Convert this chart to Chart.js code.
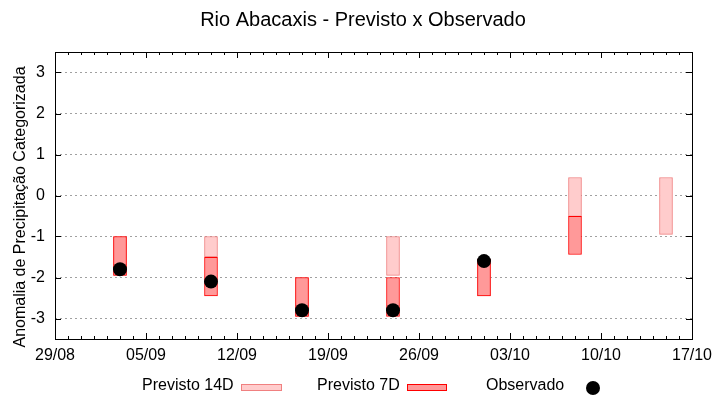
<!DOCTYPE html>
<html>
<head>
<meta charset="utf-8">
<script src="https://cdn.jsdelivr.net/npm/chart.js@4/dist/chart.umd.min.js"></script>
<style>
  html, body { margin: 0; padding: 0; background: #fff; }
  #wrap { width: 720px; height: 400px; }
</style>
</head>
<body>
<div id="wrap"><canvas id="c" width="720" height="400"></canvas></div>
<script>
const chartTitle = 'Rio Abacaxis - Previsto x Observado';
const yAxisTitle = 'Anomalia de Precipitação Categorizada';
const xTickLabels = ['29/08', '05/09', '12/09', '19/09', '26/09', '03/10', '10/10', '17/10'];
const yTickValues = [-3, -2, -1, 0, 1, 2, 3];
const forecastDates = ['03/09', '10/09', '17/09', '24/09', '01/10', '08/10', '15/10'];
const prev14Low  = [-1.95, -1.5, -2.95, -1.95, -2.45, -0.51, -0.95];
const prev14High = [-1.0, -1.0, -2.0, -1.0, -1.55, 0.44, 0.44];
const prev7Low   = [-1.95, -2.45, -2.95, -2.95, -2.45, -1.44, null];
const prev7High  = [-1.0, -1.51, -2.0, -2.0, -1.55, -0.51, null];
const observed   = [-1.8, -2.1, -2.8, -2.8, -1.6, null, null];

const FONT = '"Liberation Sans", Arial, sans-serif';

function dayOffset(s) {
  const [d, m] = s.split('/').map(Number);
  const [bd, bm] = xTickLabels[0].split('/').map(Number);
  return Math.round((Date.UTC(2023, m - 1, d) - Date.UTC(2023, bm - 1, bd)) / 86400000);
}
const xs = forecastDates.map(dayOffset);
const xMax = dayOffset(xTickLabels[xTickLabels.length - 1]);
const tickStep = dayOffset(xTickLabels[1]);

const d14 = xs.map((x, i) => ({ x: x, y: [prev14Low[i], prev14High[i]] }));
const d7 = xs.map((x, i) => prev7Low[i] == null ? null : ({ x: x, y: [prev7Low[i], prev7High[i]] })).filter(Boolean);
const dObs = xs.map((x, i) => observed[i] == null ? null : ({ x: x, y: observed[i] })).filter(Boolean);

const decor = {
  id: 'decor',
  afterDraw(chart) {
    const ctx = chart.ctx;
    const a = chart.chartArea;
    const sx = chart.scales.x, sy = chart.scales.y;
    ctx.save();
    // frame
    ctx.strokeStyle = '#000';
    ctx.lineWidth = 1;
    ctx.strokeRect(Math.round(a.left) + 0.5, Math.round(a.top) + 0.5, Math.round(a.right - a.left), Math.round(a.bottom - a.top));
    ctx.beginPath();
    // x ticks
    for (let d = 0; d <= xMax; d++) {
      const px = Math.round(sx.getPixelForValue(d)) + 0.5;
      const len = (d % tickStep === 0) ? 6 : 3;
      ctx.moveTo(px, a.bottom); ctx.lineTo(px, a.bottom - len);
      ctx.moveTo(px, a.top); ctx.lineTo(px, a.top + len);
    }
    // y ticks
    yTickValues.forEach(v => {
      const py = Math.round(sy.getPixelForValue(v)) + 0.5;
      ctx.moveTo(a.left, py); ctx.lineTo(a.left + 6, py);
      ctx.moveTo(a.right, py); ctx.lineTo(a.right - 6, py);
    });
    ctx.stroke();

    // title
    ctx.fillStyle = '#000';
    ctx.font = '20px ' + FONT;
    ctx.textAlign = 'center';
    ctx.textBaseline = 'middle';
    ctx.fillText(chartTitle, 363, 20);

    // y axis title
    ctx.save();
    ctx.translate(21, 207);
    ctx.rotate(-Math.PI / 2);
    ctx.font = '16px ' + FONT;
    ctx.fillText(yAxisTitle, 0, 0);
    ctx.restore();

    // legend
    ctx.font = '16px ' + FONT;
    ctx.textAlign = 'left';
    ctx.textBaseline = 'middle';
    const ly = 386;
    ctx.fillText('Previsto 14D', 142, ly);
    ctx.fillStyle = '#ffcccc';
    ctx.fillRect(241, 384, 41, 7);
    ctx.strokeStyle = '#f08080';
    ctx.strokeRect(241.5, 384.5, 40, 6);
    ctx.fillStyle = '#000';
    ctx.fillText('Previsto 7D', 317, ly);
    ctx.fillStyle = '#ff9999';
    ctx.fillRect(407, 384, 40, 7);
    ctx.strokeStyle = '#ff0000';
    ctx.strokeRect(407.5, 384.5, 39, 6);
    ctx.fillStyle = '#000';
    ctx.fillText('Observado', 486, ly);
    ctx.beginPath();
    ctx.arc(593, 388, 7, 0, Math.PI * 2);
    ctx.fill();
    ctx.restore();
  }
};

new Chart(document.getElementById('c'), {
  type: 'bar',
  data: {
    datasets: [
      {
        type: 'line', label: 'Observado', data: dObs, showLine: false,
        pointRadius: 7, pointHoverRadius: 7, pointBackgroundColor: '#000', pointBorderColor: '#000',
        pointBorderWidth: 0, order: 0
      },
      {
        label: 'Previsto 7D', data: d7, backgroundColor: '#ff9999', borderColor: '#ff0000',
        borderWidth: 1, borderSkipped: false, barThickness: 13, grouped: false, order: 1
      },
      {
        label: 'Previsto 14D', data: d14, backgroundColor: '#ffcccc', borderColor: '#f08080',
        borderWidth: 1, borderSkipped: false, barThickness: 13, grouped: false, order: 2
      }
    ]
  },
  options: {
    responsive: false,
    animation: false,
    events: [],
    layout: { padding: { left: 0, right: 28, top: 52, bottom: 0 } },
    plugins: { legend: { display: false }, title: { display: false }, tooltip: { enabled: false } },
    scales: {
      x: {
        type: 'linear', min: 0, max: xMax, offset: false,
        grid: { display: false, offset: false, drawTicks: false },
        border: { display: false },
        afterFit(s) { s.height = 61; },
        afterBuildTicks(s) { s.ticks = xTickLabels.map((_, i) => ({ value: i * tickStep })); },
        ticks: {
          autoSkip: false, maxRotation: 0, padding: 7, color: '#000',
          font: { family: FONT, size: 16 },
          callback: (v) => xTickLabels[Math.round(v / tickStep)]
        }
      },
      y: {
        min: -3.5, max: 3.5,
        grid: { color: '#a0a0a0', lineWidth: 1, drawTicks: false },
        border: { display: false, dash: [2, 3] },
        afterFit(s) { s.width = 55; },
        afterBuildTicks(s) { s.ticks = yTickValues.map(v => ({ value: v })); },
        ticks: {
          padding: 10, color: '#000',
          font: { family: FONT, size: 16 },
          callback: (v) => String(v)
        }
      }
    }
  },
  plugins: [decor]
});
</script>
</body>
</html>
